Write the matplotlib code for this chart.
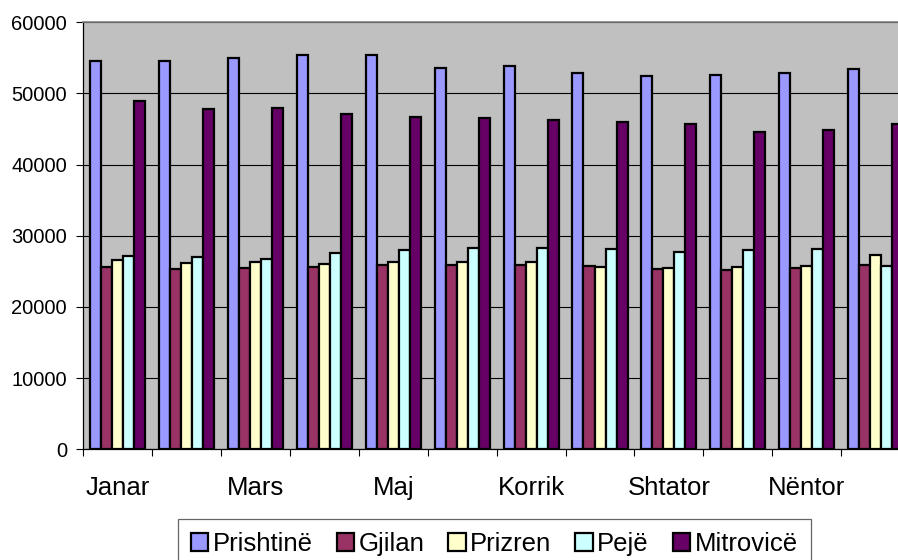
import numpy as np
import matplotlib.pyplot as plt

plt.rcParams['font.family'] = ['Liberation Sans', 'DejaVu Sans']

muajt = ['Janar', 'Shkurt', 'Mars', 'Prill', 'Maj', 'Qershor',
         'Korrik', 'Gusht', 'Shtator', 'Tetor', 'Nëntor', 'Dhjetor']
qytetet = ['Prishtinë', 'Gjilan', 'Prizren', 'Pejë', 'Mitrovicë']

prishtine = [54600, 54520, 54940, 55450, 55400, 53620, 53860, 52830, 52500, 52600, 52920, 53390]
gjilan = [25660, 25290, 25520, 25660, 25940, 25940, 25940, 25800, 25330, 25190, 25430, 25940]
prizren = [26600, 26130, 26270, 26080, 26270, 26270, 26270, 25660, 25520, 25570, 25800, 27300]
peje = [27160, 27070, 26740, 27630, 28050, 28330, 28330, 28100, 27720, 28050, 28100, 25800]
mitrovice = [48990, 47860, 47960, 47110, 46690, 46550, 46220, 45940, 45660, 44540, 44910, 45660]

ngjyrat = ['#9999FF', '#993366', '#FFFFCC', '#CCFFFF', '#660066']

seri = [prishtine, gjilan, prizren, peje, mitrovice]

fig = plt.figure(figsize=(8.98, 5.6), dpi=100)
ax = fig.add_axes([0.0928, 0.1977, 0.9206, 0.7625])
ax.set_facecolor('#C0C0C0')

x = np.arange(len(muajt))
w = 0.16
for i, (vals, emri, c) in enumerate(zip(seri, qytetet, ngjyrat)):
    ax.bar(x + (i - 2) * w, vals, w, color=c, edgecolor='black',
           linewidth=1.6, label=emri, zorder=3)

ax.set_xlim(-0.5, len(muajt) - 0.5)
ax.set_ylim(0, 60000)
ax.set_yticks(np.arange(0, 60001, 10000))
ax.yaxis.grid(True, color='black', linewidth=0.8, zorder=1)
ax.set_axisbelow(True)

# ticks between categories, labels at centres (every other month)
ax.set_xticks(np.arange(-0.5, len(muajt), 1.0))
ax.set_xticklabels([])
ax.set_xticks(x, minor=True)
ax.set_xticklabels([m if k % 2 == 0 else '' for k, m in enumerate(muajt)], minor=True)
ax.tick_params(axis='x', which='major', direction='out', length=5.3, width=0.8)
ax.tick_params(axis='x', which='minor', length=0, pad=19.5, labelsize=18.5)
ax.tick_params(axis='y', direction='out', length=4.8, width=0.8, pad=7, labelsize=14.5)

for s in ['left', 'bottom']:
    ax.spines[s].set_color('black')
    ax.spines[s].set_linewidth(0.9)
ax.spines['top'].set_color('#808080')
ax.spines['top'].set_linewidth(1.2)
ax.spines['right'].set_visible(False)

leg = fig.legend(loc='upper center', bbox_to_anchor=(0.5505, 0.0727), ncol=5,
                 fontsize=18.5, frameon=True, fancybox=False, shadow=False,
                 handlelength=0.67, handleheight=0.67, handletextpad=0.18,
                 columnspacing=0.93, borderpad=0.5, borderaxespad=0)
leg.get_frame().set_edgecolor('#404040')
leg.get_frame().set_linewidth(0.9)

fig.savefig('out.png', dpi=100)
